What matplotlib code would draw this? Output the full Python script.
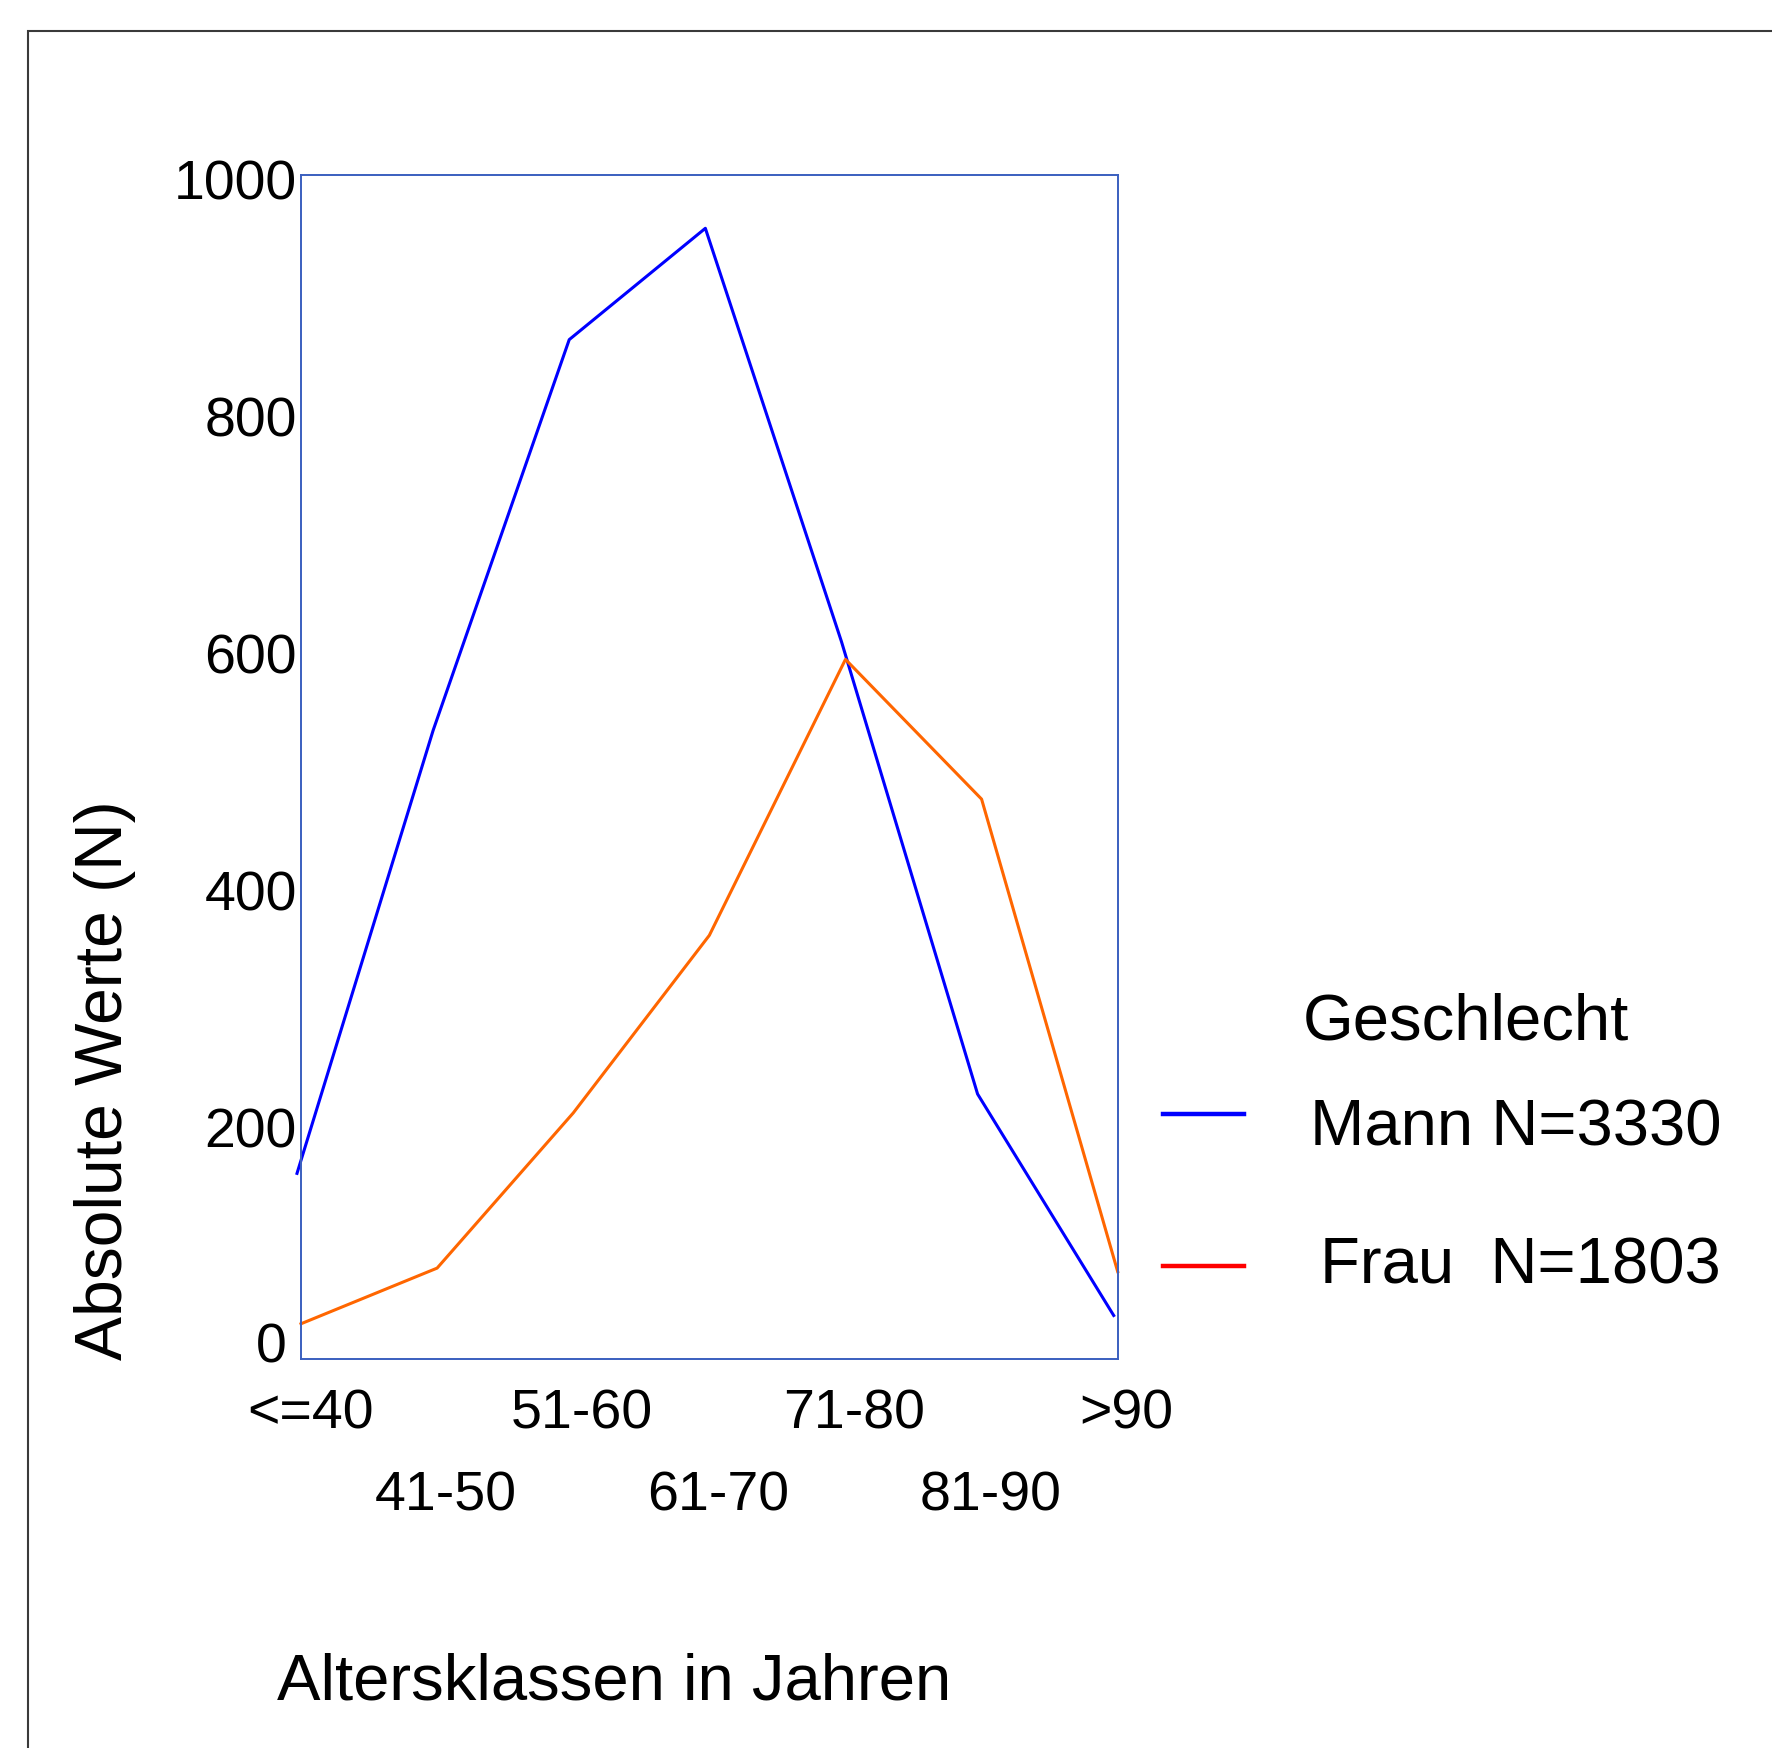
import numpy as np
import matplotlib.pyplot as plt
import matplotlib.transforms as mtransforms
from matplotlib.patches import Rectangle
from matplotlib.lines import Line2D

plt.rcParams['font.family'] = ['Liberation Sans', 'DejaVu Sans']

# Altersklassen
klassen = ['<=40', '41-50', '51-60', '61-70', '71-80', '81-90', '>90']
# absolute Werte je Klasse
mann = [157, 531, 861, 955, 606, 224, 37]
frau = [30, 77, 208, 358, 591, 473, 74]
legend_labels = ['Mann N=3330', 'Frau  N=1803']
legend_title = 'Geschlecht'

W, H = 1772, 1748
fig = plt.figure(figsize=(W/100, H/100), dpi=100)

def fx(px):
    return px / W

def fy(py):
    return 1 - py / H

# outer frame, runs off the right and bottom edge
fig.add_artist(Rectangle((fx(28), -0.2), 1.2, fy(31) + 0.2, transform=fig.transFigure,
                         fill=False, edgecolor='#3a3a3a', linewidth=1.5))

ax = fig.add_axes([fx(301), fy(1359.3), fx(1117.7) - fx(301), fy(175) - fy(1359.3)])

x = np.arange(len(klassen))
shift_blue = mtransforms.ScaledTranslation(-4/100, 0, fig.dpi_scale_trans)
ax.plot(x, mann, color='#0000ff', lw=2.2, clip_on=False, transform=ax.transData + shift_blue)
ax.plot(x, frau, color='#ff6600', lw=2.2, clip_on=False)

ax.set_xlim(0, 6)
ax.set_ylim(0, 1000)

for sp in ax.spines.values():
    sp.set_color('#3a5fbf')
    sp.set_linewidth(1.4)

ax.set_yticks([0, 200, 400, 600, 800, 1000])
ax.set_xticks(x[::2], labels=klassen[::2])
ax.set_xticks(x[1::2], labels=klassen[1::2], minor=True)
ax.tick_params(axis='both', which='both', length=0, labelsize=40)
ax.tick_params(axis='x', which='major', pad=21)
ax.tick_params(axis='x', which='minor', pad=80)
ax.tick_params(axis='y', pad=3)

off_x = mtransforms.ScaledTranslation(9/100, 0, fig.dpi_scale_trans)
for lab in ax.get_xticklabels(which='both'):
    lab.set_transform(lab.get_transform() + off_x)
off_y = mtransforms.ScaledTranslation(0, -5/100, fig.dpi_scale_trans)
ylabs = ax.get_yticklabels()
for lab in ylabs:
    lab.set_transform(lab.get_transform() + off_y)
ylabs[0].set_transform(ylabs[0].get_transform()
                       + mtransforms.ScaledTranslation(-10/100, 22/100, fig.dpi_scale_trans))

# axis titles
fig.text(fx(105), fy(1360), 'Absolute Werte (N)', rotation=90, ha='center', va='bottom', fontsize=47.5)
fig.text(fx(277), fy(1700), 'Altersklassen in Jahren', ha='left', va='baseline', fontsize=47)

# legend
fig.text(fx(1303), fy(1040), legend_title, ha='left', va='baseline', fontsize=47)
fig.text(fx(1721), fy(1146), legend_labels[0], ha='right', va='baseline', fontsize=47)
fig.text(fx(1721), fy(1283), legend_labels[1], ha='right', va='baseline', fontsize=47)
fig.add_artist(Line2D([fx(1163), fx(1244)], [fy(1114), fy(1114)], color='#0000ff', lw=3.2))
fig.add_artist(Line2D([fx(1163), fx(1244)], [fy(1266), fy(1266)], color='#ff0000', lw=3.2))

fig.savefig('out.png', dpi=100, facecolor='white')
